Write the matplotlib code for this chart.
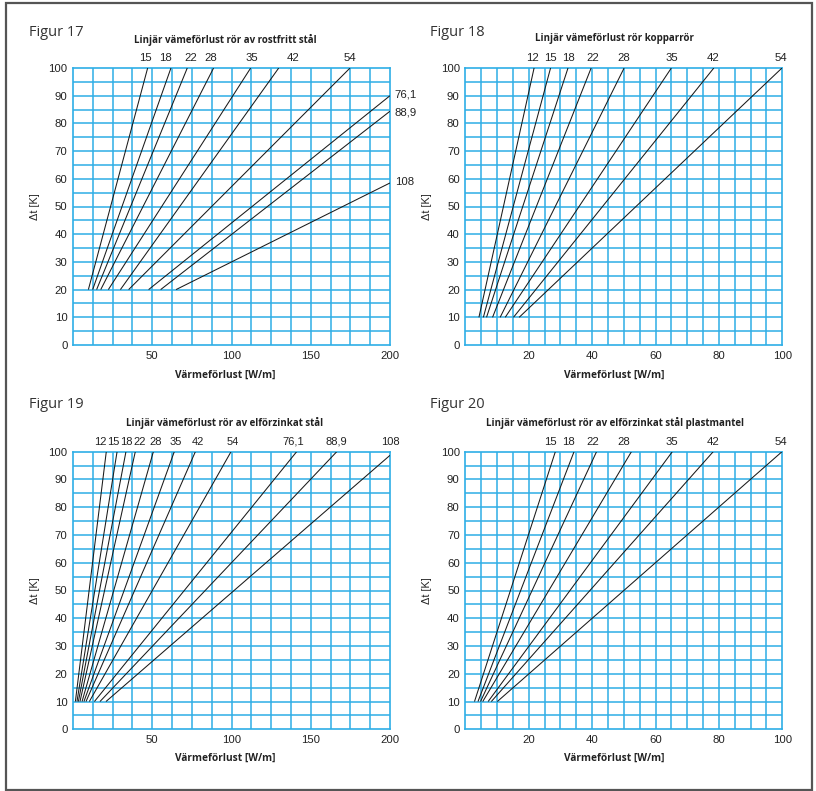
import matplotlib
matplotlib.use("Agg")
import matplotlib.pyplot as plt
import matplotlib.transforms as mtransforms
from matplotlib.patches import Rectangle

W, H = 816, 791

NARROW = ["Liberation Sans Narrow", "Liberation Sans", "DejaVu Sans"]
HUMAN = ["Open Sans", "DejaVu Sans"]

GRID_BLUE = "#2eaee6"

# ================= DATA =================

# Figur 17 - rostfritt stal (start at dt=20)
fig17_labels = ["15", "18", "22", "28", "35", "42", "54", "76,1", "88,9", "108"]
fig17_x0 = [9.7, 12.4, 14.9, 17.5, 22.3, 29.9, 35.1, 47.7, 55.3, 65.0]
fig17_y0 = [20, 20, 20, 20, 20, 20, 20, 20, 20, 20]
fig17_x1 = [47.1, 61.8, 72.1, 88.7, 112.1, 129.8, 174.8, 200, 200, 200]
fig17_y1 = [100, 100, 100, 100, 100, 100, 100, 90.0, 84.4, 58.5]
fig17_top_labels = ["15", "18", "22", "28", "35", "42", "54"]
fig17_top_pos = [45.8, 58.5, 74.4, 86.6, 112.7, 138.6, 175.0]
fig17_side_labels = ["76,1", "88,9", "108"]
fig17_side_pos = [90.6, 83.8, 58.7]

# Figur 18 - kopparror
fig18_labels = ["12", "15", "18", "22", "28", "35", "42", "54"]
fig18_x0 = [4.3, 5.7, 6.7, 8.6, 11.0, 12.6, 15.2, 17.0]
fig18_x1 = [21.7, 26.9, 32.4, 39.7, 50.1, 65.0, 78.4, 99.9]
fig18_top_pos = [21.2, 26.8, 32.6, 40.1, 50.1, 65.0, 78.1, 99.7]

# Figur 19 - elforzinkat stal
fig19_labels = ["12", "15", "18", "22", "28", "35", "42", "54", "76,1", "88,9", "108"]
fig19_x0 = [1.5, 2.5, 3.4, 4.4, 5.7, 6.9, 8.2, 10.3, 13.5, 17.0, 20.8]
fig19_x1 = [21.0, 27.8, 33.4, 39.3, 50.7, 63.9, 77.2, 99.7, 141.1, 166.4, 200]
fig19_y1 = [100, 100, 100, 100, 100, 100, 100, 100, 100, 100, 98.7]
fig19_top_pos = [17.4, 25.6, 33.9, 41.8, 51.9, 65.0, 79.1, 100.5, 139.0, 166.3, 200.0]

# Figur 20 - elforzinkat stal plastmantel
fig20_labels = ["15", "18", "22", "28", "35", "42", "54"]
fig20_x0 = [2.9, 4.0, 4.8, 5.5, 7.2, 8.2, 10.1]
fig20_x1 = [28.4, 34.3, 41.4, 52.4, 65.3, 78.2, 99.9]
fig20_top_pos = [26.8, 32.6, 40.1, 50.1, 65.0, 78.1, 99.7]

yticks = [0, 10, 20, 30, 40, 50, 60, 70, 80, 90, 100]
xticks_200 = [50, 100, 150, 200]
xticks_100 = [20, 40, 60, 80, 100]


# ================= HELPERS =================

def px_axes(fig, left, top, right, bottom):
    return fig.add_axes([left / W, 1 - bottom / H, (right - left) / W, (bottom - top) / H])


def style_axes(ax, xmax, xticks, xstep):
    ax.set_xlim(0, xmax)
    ax.set_ylim(0, 100)
    ax.set_xticks(xticks)
    ax.set_yticks(yticks)
    gx = [xstep * i for i in range(1, int(round(xmax / xstep)))]
    for g in gx:
        ax.axvline(g, color=GRID_BLUE, lw=1.1, zorder=1)
    for g in range(5, 100, 5):
        ax.axhline(g, color=GRID_BLUE, lw=1.1, zorder=1)
    for s in ax.spines.values():
        s.set_color(GRID_BLUE)
        s.set_linewidth(1.2)
    ax.tick_params(length=0, pad=4, labelsize=8.2)
    for lab in ax.get_xticklabels() + ax.get_yticklabels():
        lab.set_family(NARROW)
        lab.set_color("#222222")
    ax.set_ylabel("\u0394t [K]", family=NARROW, fontsize=7.8, color="#222222", labelpad=6)


def top_labels(ax, labels, pos, size=8.2):
    trans = mtransforms.blended_transform_factory(ax.transData, ax.transAxes)
    for lab, x in zip(labels, pos):
        ax.text(x, 1.036, lab, transform=trans, ha="center", va="center",
                family=NARROW, fontsize=size, color="#222222", clip_on=False)


def draw_lines(ax, x0, y0, x1, y1):
    for a, b, c, d in zip(x0, y0, x1, y1):
        ax.plot([a, c], [b, d], color="#1a1a1a", lw=0.75, zorder=3, solid_capstyle="butt")


# ================= FIGURE =================

fig = plt.figure(figsize=(W / 100, H / 100), dpi=100)

frame = Rectangle((6 / W, 1 - 790 / H), (812 - 6) / W, (790 - 3) / H, transform=fig.transFigure,
                  fill=False, edgecolor="#555555", lw=1.6)
fig.patches.append(frame)

ax17 = px_axes(fig, 73, 68, 390, 345)
ax18 = px_axes(fig, 465.3, 68, 782.3, 345)
ax19 = px_axes(fig, 73, 451.7, 390, 729.3)
ax20 = px_axes(fig, 465.3, 451.7, 782.3, 729.3)

style_axes(ax17, 200, xticks_200, 12.5)
style_axes(ax18, 100, xticks_100, 5)
style_axes(ax19, 200, xticks_200, 12.5)
style_axes(ax20, 100, xticks_100, 5)

draw_lines(ax17, fig17_x0, fig17_y0, fig17_x1, fig17_y1)
top_labels(ax17, fig17_top_labels, fig17_top_pos)
for lab, y in zip(fig17_side_labels, fig17_side_pos):
    ax17.text(1.015, y, lab, transform=mtransforms.blended_transform_factory(ax17.transAxes, ax17.transData),
              ha="left", va="center", family=NARROW, fontsize=8.2, color="#222222", clip_on=False)

draw_lines(ax18, fig18_x0, [10] * len(fig18_x0), fig18_x1, [100] * len(fig18_x1))
top_labels(ax18, fig18_labels, fig18_top_pos)

draw_lines(ax19, fig19_x0, [10] * len(fig19_x0), fig19_x1, fig19_y1)
top_labels(ax19, fig19_labels, fig19_top_pos, size=8.0)

draw_lines(ax20, fig20_x0, [10] * len(fig20_x0), fig20_x1, [100] * len(fig20_x1))
top_labels(ax20, fig20_labels, fig20_top_pos)


def ftext(x, y, s, **kw):
    fig.text(x / W, 1 - y / H, s, **kw)


# figure captions
for x, y, s in [(29, 33, "Figur 17"), (430, 33, "Figur 18"), (29, 404, "Figur 19"), (430, 404, "Figur 20")]:
    ftext(x, y, s, ha="left", va="center", family=HUMAN, fontsize=10.5, color="#333333")

titles = [
    (225, 40, "Linjär vämeförlust rör av rostfritt stål"),
    (614.7, 39, "Linjär vämeförlust rör kopparrör"),
    (225, 423, "Linjär vämeförlust rör av elförzinkat stål"),
    (614.7, 423, "Linjär vämeförlust rör av elförzinkat stål plastmantel"),
]
for x, y, s in titles:
    ftext(x, y, s, ha="center", va="center", family=HUMAN, fontsize=7.0, weight="bold", color="#222222")

for x, y in [(225, 375), (614.7, 375), (225, 758.3), (614.7, 758.3)]:
    ftext(x, y, "Värmeförlust [W/m]", ha="center", va="center", family=HUMAN, fontsize=7.3,
          weight="bold", color="#222222")

fig.savefig("out.png", dpi=100)
